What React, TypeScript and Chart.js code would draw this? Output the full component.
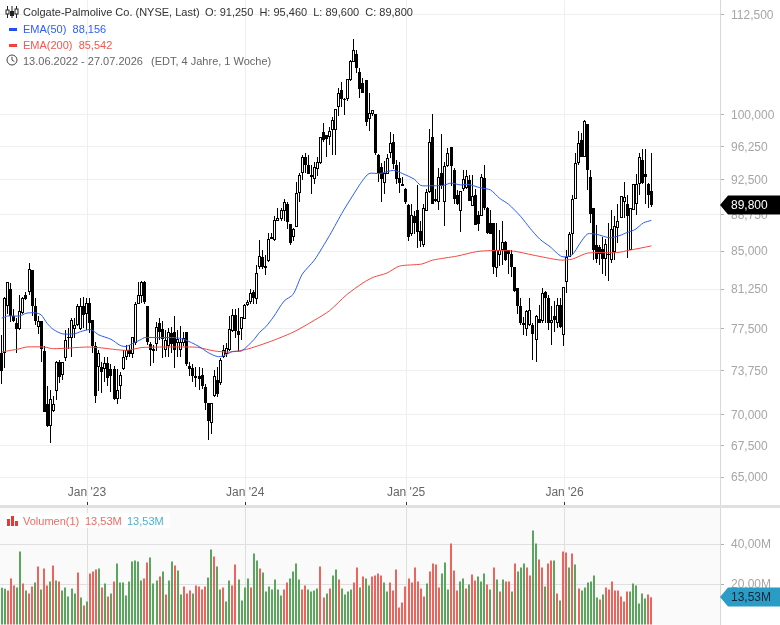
import React, { useEffect, useRef } from "react";
import { Chart, registerables } from "chart.js";

Chart.register(...registerables);

const FONT = "'Liberation Sans', Arial, sans-serif";

const opens = [
  75.3,75.3,79.6,81.3,78.7,78.0,77.45,79.0,80.7,81.0,83.1,79.65,77.7,78.2,
  75.5,70.85,69.1,70.3,72.0,74.5,73.4,74.9,76.65,76.7,77.45,77.9,77.45,79.6,78.9,79.95,78.3,75.9,74.1,74.1,73.9,74.4,73.9,73.9,71.3,72.4,73.9,75.0,75.6,75.2,76.2,79.8,80.6,81.9,79.6,76.1,75.5,76.15,78.0,77.5,75.6,75.9,77.1,77.2,76.25,75.6,76.2,77.2,74.2,74.0,73.1,73.3,73.4,72.3,71.0,69.3,71.55,72.9,72.7,75.0,75.2,75.6,77.3,
  78.75,77.3,77.45,78.4,79.75,80.05,80.95,80.3,83.4,84.45,83.5,84.0,86.4,86.1,88.1,88.3,89.15,89.9,87.8,86.4,87.45,91.1,93.25,95.0,94.1,93.0,92.55,93.65,94.4,97.9,97.55,97.3,98.1,98.1,100.85,102.9,101.7,101.8,104.15,106.4,107.45,105.2,103.8,104.2,99.4,100.05,100.05,95.3,93.95,92.15,93.1,95.55,96.75,94.1,92.7,92.0,91.5,89.8,86.7,88.6,89.3,87.1,85.65,89.15,91.15,97.3,90.45,90.15,93.25,90.1,94.0,96.15,93.6,90.8,
  89.1,91.45,91.65,92.5,89.7,90.8,88.75,88.65,92.7,89.5,87.9,87.85,83.3,84.6,85.1,85.95,85.1,84.75,83.4,81.35,79.6,78.05,77.45,77.9,77.9,76.45,78.4,78.2,80.95,80.4,78.05,78.7,78.05,79.7,76.9,81.9,84.45,86.7,90.45,94.35,96.95,95.05,98.85,92.8,89.45,85.6,85.45,85.25,84.25,84.75,84.1,84.95,87.35,88.4,90.15,89.85,85.1,89.3,89.85,92.0,94.7,93.15,92.05,91.25,
];
const highs = [
  76.9,80.5,81.95,81.85,79.4,78.5,80.7,80.5,81.0,83.8,83.1,80.4,78.7,78.2,
  75.95,72.4,72.1,71.6,74.6,74.7,74.5,77.4,77.6,78.5,78.5,79.85,80.4,80.5,80.4,80.4,78.3,76.3,75.6,74.5,75.0,75.0,74.3,74.2,73.9,73.6,75.6,76.0,76.0,76.8,80.0,81.9,82.0,82.0,79.6,76.3,76.0,78.1,78.5,78.2,77.4,77.6,77.7,78.7,77.4,77.8,77.2,77.2,74.5,74.3,74.1,74.1,74.0,72.6,71.0,71.0,73.8,74.1,74.9,76.0,76.2,78.7,79.35,
  79.4,79.45,78.6,79.85,80.2,81.25,81.2,83.65,86.1,85.1,84.6,86.85,86.85,88.65,89.5,89.5,90.4,90.05,87.8,87.4,92.3,93.3,95.25,95.5,95.25,94.1,94.5,95.05,97.3,99.0,97.55,98.5,99.65,100.6,103.2,103.9,101.9,104.25,106.65,109.3,107.9,105.7,104.4,104.2,102.6,100.5,100.05,95.4,94.4,94.6,95.4,97.9,97.7,94.7,94.5,92.85,91.6,89.9,89.9,89.15,91.95,88.1,89.9,91.5,98.3,100.0,91.5,93.8,97.7,94.5,96.1,96.15,93.8,91.4,
  91.3,93.6,93.55,93.05,93.05,91.5,89.1,93.2,94.2,89.6,89.2,87.9,87.9,87.2,88.05,86.05,85.1,85.1,83.45,81.35,80.35,78.6,79.3,80.35,78.05,78.8,79.75,81.35,81.05,80.7,79.6,80.1,80.35,80.35,81.45,85.1,86.95,90.85,95.5,98.05,97.85,99.3,98.85,93.55,89.45,87.7,85.6,86.45,86.25,87.9,89.3,88.65,89.85,90.75,92.25,90.8,89.45,92.05,93.2,95.5,96.0,95.9,92.2,95.46,
];
const lows = [
  72.6,74.0,78.9,78.1,78.1,75.3,77.4,78.9,80.2,80.7,78.7,77.9,77.0,74.5,
  70.2,69.0,67.7,70.2,71.2,72.7,72.9,74.6,75.7,75.0,76.7,77.8,77.4,77.6,77.4,77.1,75.3,71.0,72.0,71.8,72.8,72.4,71.9,71.2,70.9,71.3,73.8,74.7,75.0,74.9,76.0,79.8,79.9,79.8,76.0,74.2,74.4,75.5,76.5,74.9,75.0,75.0,75.3,74.0,75.0,75.0,75.9,74.2,73.3,72.8,72.3,72.1,72.2,70.4,67.9,68.4,71.5,71.5,72.5,74.9,75.0,75.5,77.2,
  76.7,75.5,76.5,78.4,79.6,79.8,79.8,79.8,83.2,83.2,82.6,83.95,86.2,86.0,88.1,88.05,88.1,87.25,85.65,86.05,87.45,90.1,92.5,93.25,93.2,90.95,92.0,92.9,94.3,96.75,95.05,96.4,95.3,95.3,99.75,100.85,99.9,101.6,104.05,106.4,105.0,102.0,102.6,98.6,98.0,99.8,95.3,92.3,90.1,90.95,93.1,94.9,93.75,92.1,91.1,91.8,89.9,86.05,86.55,86.7,85.35,85.45,85.4,89.1,91.1,89.85,90.1,89.25,91.5,87.6,93.95,91.8,89.9,89.75,
  86.95,91.3,91.45,90.25,89.7,87.7,87.05,88.65,89.3,86.7,86.7,82.75,82.4,83.5,83.65,84.05,82.75,82.4,81.0,78.85,77.9,76.9,76.85,77.75,74.65,74.55,78.05,78.05,78.05,77.4,76.05,77.2,77.6,77.6,75.95,80.9,84.45,84.6,90.45,94.2,95.05,95.05,91.4,87.9,84.1,83.85,83.6,82.75,82.5,82.0,83.85,84.1,85.85,88.4,88.4,84.35,85.1,89.3,88.75,90.9,92.0,89.9,89.45,89.6,
];
const closes = [
  73.7,80.4,81.9,78.7,78.2,77.45,79.2,80.4,80.3,83.2,79.65,78.2,78.2,75.7,
  70.2,69.1,71.3,70.9,74.5,73.2,74.5,76.5,76.8,78.3,77.85,79.6,79.6,78.8,79.95,78.0,75.9,71.6,75.3,73.6,74.4,73.1,73.3,71.3,72.1,73.4,75.0,75.6,75.2,76.8,79.8,80.7,81.9,80.0,76.3,75.6,75.7,77.7,77.2,76.6,76.5,77.2,76.1,75.6,76.6,76.3,76.7,74.35,73.9,73.3,73.25,73.0,72.4,71.0,69.45,71.0,73.25,71.7,74.7,75.6,75.75,77.45,78.8,
  77.3,76.9,78.6,79.75,80.0,80.9,80.4,82.85,84.55,83.4,83.3,86.25,86.25,88.2,88.45,89.3,90.05,87.95,85.85,87.3,91.1,93.0,95.05,94.1,93.2,92.85,93.95,94.5,97.3,96.95,97.05,98.0,99.3,100.6,102.6,101.8,101.85,104.25,106.5,107.9,105.65,103.0,102.6,99.05,100.1,100.5,95.55,93.25,92.55,93.25,94.9,96.65,94.25,92.55,92.15,91.8,90.15,86.4,88.7,87.85,86.95,86.0,89.5,91.15,96.7,89.85,90.25,92.85,91.8,94.0,95.45,94.0,90.45,89.9,
  91.3,92.55,92.95,90.25,90.7,87.7,87.8,92.8,89.5,86.85,86.7,83.45,85.1,85.1,85.9,84.1,84.75,83.45,81.1,79.6,78.0,77.9,79.15,79.3,77.0,78.7,78.05,80.85,80.4,78.05,78.35,78.3,79.75,77.7,81.45,84.45,86.7,90.45,94.35,96.65,95.05,99.2,93.55,88.85,85.1,84.25,84.75,84.25,85.75,84.7,87.25,87.55,88.05,90.75,90.65,88.6,89.45,92.05,92.05,95.1,92.2,92.85,90.8,89.8,
];

const ema50Weeks = [0,2,6,8,11,13,15,17,20,24,26,29,30,32,36,39,41,43,46,47,52,57,60,65,68,71,73,76,79,83,85,87,89.5,93,96,99,103,108,112.5,117,118.6,121,124.6,129,132,136,138,141,145.5,148,151,153.7,157.5,161,164,167,171,174,177.3,180.6,184.5,187.8,190.5,193,196,200.4,203.7,206,208.6,211.4,214];
const ema50 = [78.5,78.7,78.7,78.95,79.0,78.8,78.0,77.45,77.05,77.05,77.25,77.45,77.35,76.95,76.55,76.0,75.9,76.15,76.55,76.7,76.7,76.7,76.55,75.9,75.35,75.0,75.05,75.45,75.5,76.5,77.2,77.7,78.6,80.1,80.75,82.7,84.1,86.6,89.15,91.5,92.3,93.2,93.2,93.55,93.2,92.55,91.9,91.85,91.9,92.15,91.95,92.0,91.65,91.4,90.5,89.85,88.55,87.35,86.2,85.45,84.45,84.6,85.8,86.75,86.7,86.35,86.6,86.9,87.2,87.9,88.156];

const ema200Weeks = [0,3,6,8,14,17,28,32,41,46,52,63,65,70,75,80.7,88,96,103,108,113.6,119,122.4,126.8,131,138.3,142,150,156.5,161,168.5,175,184,188,193,202.6,207,213.6,214];
const ema200 = [75.4,75.55,75.7,75.85,75.85,75.7,75.85,75.8,75.55,75.8,75.85,75.85,75.8,75.5,75.4,75.65,76.3,77.2,78.3,79.2,80.7,81.85,82.4,82.8,83.5,83.7,84.1,84.5,84.95,85.05,85.0,84.6,84.1,84.2,84.8,84.85,85.1,85.5,85.542];

const volumes = [
  18.3,17.8,17,23,19.5,18.5,36.5,20.5,17,15.5,19,21,29,17.5,28,19.5,21.5,29.5,22,21.5,17,18.5,14,18,15.5,26,13.5,9.5,11.5,25.5,26.5,27.5,28,18.5,20.5,14,15.5,21.5,30.5,21,21,14.5,21.5,31.5,32,31.5,22,23,31,33.5,20.5,22,24,26.5,15,22,31.5,29.5,27,15,19,15.5,17,15.5,19.5,19,17.5,19,23.5,37.5,34,29,17.5,18.5,11.5,22,19.5,30,22.5,12,18.5,23,18.5,35.5,32,28,
  26,16.5,19,17.5,22.5,17.5,14.5,17.5,21,23,26.5,30.5,22.5,17.5,19.5,17.5,16.5,17,18,29,13.5,15.5,18,24.5,27.5,22.5,18,15,16.5,17.5,21,28.5,18.5,24,23,19.5,24,24.5,25.5,24.5,21,16.5,21,17,27.5,8.5,11,19,23,21,28.5,21.5,18,14,20.5,26.5,30.5,30,18.5,25.5,31,17.5,40.5,27,17,21.5,23,18,20,25,22,24,21.5,25.5,20,17.5,28.5,22.5,16.5,22.5,21.5,21.5,16.5,30.5,26.5,
  28.5,30.5,28.5,24.5,47,40.5,32.5,28.5,19,30.5,32,32,15.5,12,36.5,36,28.5,35.5,30,18,17,18.5,21,21.5,24.5,13.5,12.5,15,18.5,17.5,21.5,17,17,14,11.5,16.5,16.5,20.5,19.5,10.5,15.5,13,15,13.53,
];
const volumeDirections = (
  "GG RRR GG R G RR G R G RR G R G R GGGGG R G R G RRR G R G R G R GGGGGGGGG RR GGG R G R GG R GG RRR G RRRR GG R GG R GG RR GGGG R GG R " +
  "GGGGGGG RR GGGG RR GGGG RR G R GG R GGGG RR G R GG R RR R G G RRR RRRR RRR R R G R RRR GGG RRR GG R G RR GGG R G R G R G RR G R GGG RR GG " +
  "RR G R R G R G R R G R G R GGGGGG R G RRRRRRRR GGGGGG RR GGGG RRRR"
).replace(/\s/g, "");

const priceTicks = [112.5, 100, 96.25, 92.5, 88.75, 85, 81.25, 77.5, 73.75, 70, 67.5, 65];
const volumeTicks = [40, 20];
const timeTickWeeks = [28.1, 80.2, 133.2, 185.4];
const timeTickLabels = ["Jan '23", "Jan '24", "Jan '25", "Jan '26"];

const lastPrice = 89.8;
const lastVolume = 13.53;

const weeks = opens.map((_, i) => i);
const X_MIN = -0.56;
const X_MAX = 236.6;

const snapBars = (chart: any, half: boolean) => {
  chart.data.datasets.forEach((ds: any, i: number) => {
    if (ds.type === "line") return;
    const meta = chart.getDatasetMeta(i);
    meta.data.forEach((el: any) => {
      el.x = half ? Math.round(el.x - 0.5) + 0.5 : Math.round(el.x);
      const t = Math.round(el.y);
      let b = Math.round(el.base);
      if (b - t < 1) b = t + 1;
      el.y = t;
      el.base = b;
    });
  });
};

const badge = (chart: any, scaleId: string, value: number, text: string, fill: string, ink: string) => {
  const { ctx } = chart;
  const cy = Math.round(chart.scales[scaleId].getPixelForValue(value));
  ctx.save();
  ctx.fillStyle = fill;
  ctx.beginPath();
  ctx.moveTo(720, cy);
  ctx.lineTo(728, cy - 9.5);
  ctx.lineTo(780, cy - 9.5);
  ctx.lineTo(780, cy + 9.5);
  ctx.lineTo(728, cy + 9.5);
  ctx.closePath();
  ctx.fill();
  ctx.fillStyle = ink;
  ctx.font = `12px ${FONT}`;
  ctx.textBaseline = "middle";
  ctx.textAlign = "left";
  ctx.fillText(text, 731, cy + 0.5);
  ctx.restore();
};

const timeAxis = (gridColor: string, showLabels: boolean) => ({
  type: "linear" as const,
  min: X_MIN,
  max: X_MAX,
  offset: false,
  afterFit: (s: any) => {
    s.height = 0;
    s.paddingLeft = 0;
    s.paddingRight = 0;
    s.paddingTop = 0;
    s.paddingBottom = 0;
  },
  afterBuildTicks: (s: any) => { s.ticks = timeTickWeeks.map((value) => ({ value })); },
  border: { display: false },
  grid: { offset: false, color: gridColor, lineWidth: 1, drawTicks: false, tickLength: 0 },
  ticks: {
    display: showLabels,
    mirror: true,
    autoSkip: false,
    maxRotation: 0,
    padding: 5,
    color: "#666666",
    font: { size: 12, family: FONT },
    callback: (v: any) => {
      const i = timeTickWeeks.indexOf(v);
      return i >= 0 ? timeTickLabels[i] : "";
    },
  },
});

const sideAxisFit = (s: any) => {
  s.width = 60;
  s.paddingTop = 0;
  s.paddingBottom = 0;
  s.paddingLeft = 0;
  s.paddingRight = 0;
};

export default function App() {
  const priceRef = useRef<HTMLCanvasElement>(null);
  const volumeRef = useRef<HTMLCanvasElement>(null);

  useEffect(() => {
    const priceChart = new Chart(priceRef.current!, {
      type: "bar",
      data: {
        datasets: [
          {
            type: "line",
            data: ema50Weeks.map((x, i) => ({ x, y: ema50[i] })),
            borderColor: "#2b5cf6",
            borderWidth: 1,
            pointRadius: 0,
            tension: 0.25,
            order: 0,
          },
          {
            type: "line",
            data: ema200Weeks.map((x, i) => ({ x, y: ema200[i] })),
            borderColor: "#f4473f",
            borderWidth: 1,
            pointRadius: 0,
            tension: 0.25,
            order: 0,
          },
          {
            type: "bar",
            data: weeks.map((x) => ({ x, y: [Math.min(opens[x], closes[x]), Math.max(opens[x], closes[x])] })),
            barThickness: 3,
            grouped: false,
            borderSkipped: false,
            inflateAmount: 0,
            borderWidth: 1,
            borderColor: "#000000",
            backgroundColor: weeks.map((x) => (closes[x] >= opens[x] ? "#ffffff" : "#000000")),
            order: 1,
          },
          {
            type: "bar",
            data: weeks.map((x) => ({ x, y: [lows[x], highs[x]] })),
            barThickness: 1,
            grouped: false,
            borderSkipped: false,
            inflateAmount: 0,
            borderWidth: 0,
            backgroundColor: "#000000",
            order: 2,
          },
        ],
      } as any,
      options: {
        responsive: false,
        animation: false,
        layout: { padding: 0 },
        plugins: { legend: { display: false }, tooltip: { enabled: false } },
        scales: {
          x: timeAxis("#efefef", true),
          y: {
            type: "logarithmic",
            position: "right",
            min: 62.88,
            max: 114.52,
            afterFit: sideAxisFit,
            afterBuildTicks: (s: any) => { s.ticks = priceTicks.map((value) => ({ value })); },
            border: { display: true, color: "#d8d8d8" },
            grid: { color: "#efefef", lineWidth: 1, tickLength: 4, tickColor: "#b0b0b0" },
            ticks: {
              autoSkip: false,
              padding: 7,
              labelOffset: 1,
              color: "#a6a6a6",
              font: { size: 12, family: FONT },
              callback: (v: any) => Number(v).toFixed(3).replace(".", ","),
            },
          },
        },
      } as any,
      plugins: [
        {
          id: "priceMarks",
          beforeDatasetsDraw: (chart: any) => snapBars(chart, true),
          afterDraw: (chart: any) => {
            const { ctx, scales } = chart;
            ctx.save();
            ctx.fillStyle = "#333333";
            timeTickWeeks.forEach((w) => {
              ctx.fillRect(Math.round(scales.x.getPixelForValue(w) - 0.5), 502, 1, 3);
            });
            ctx.restore();
            badge(chart, "y", lastPrice, lastPrice.toFixed(3).replace(".", ","), "#000000", "#ffffff");
          },
        },
      ],
    });

    const volumeChart = new Chart(volumeRef.current!, {
      type: "bar",
      data: {
        datasets: [
          {
            data: weeks.map((x) => ({ x, y: volumes[x] })),
            barThickness: 2,
            inflateAmount: 0,
            borderWidth: 0,
            backgroundColor: weeks.map((x) => (volumeDirections[x] === "R" ? "#ec645e" : "#5ba55f")),
          },
        ],
      } as any,
      options: {
        responsive: false,
        animation: false,
        layout: { padding: 0 },
        plugins: { legend: { display: false }, tooltip: { enabled: false } },
        scales: {
          x: timeAxis("#dedede", false),
          y: {
            type: "linear",
            position: "right",
            min: -0.3,
            max: 58.2,
            afterFit: sideAxisFit,
            afterBuildTicks: (s: any) => { s.ticks = volumeTicks.map((value) => ({ value })); },
            border: { display: true, color: "#d8d8d8" },
            grid: { color: "#e0e0e0", lineWidth: 1, tickLength: 4, tickColor: "#b0b0b0" },
            ticks: {
              autoSkip: false,
              padding: 7,
              color: "#a6a6a6",
              font: { size: 12, family: FONT },
              callback: (v: any) => Number(v).toFixed(2).replace(".", ",") + "M",
            },
          },
        },
      } as any,
      plugins: [
        {
          id: "volumeMarks",
          beforeDatasetsDraw: (chart: any) => {
            chart.data.datasets.forEach((_: any, i: number) => {
              chart.getDatasetMeta(i).data.forEach((el: any) => {
                el.x = Math.round(el.x);
              });
            });
          },
          afterDraw: (chart: any) => {
            badge(chart, "y", lastVolume, lastVolume.toFixed(2).replace(".", ",") + "M", "#2a9cc5", "#10283a");
          },
        },
      ],
    });

    return () => {
      priceChart.destroy();
      volumeChart.destroy();
    };
  }, []);

  const row = (top: number): React.CSSProperties => ({
    position: "absolute",
    left: 23,
    top,
    height: 16,
    lineHeight: "16px",
    whiteSpace: "pre",
    fontSize: 11,
  });

  return (
    <div style={{ position: "absolute", left: 0, top: 0, width: 780, height: 625, overflow: "hidden", background: "#fff", fontFamily: FONT }}>
      <canvas ref={priceRef} width={780} height={505} style={{ position: "absolute", left: 0, top: 0, display: "block" }} />
      <div style={{ position: "absolute", left: 0, top: 505, width: 780, height: 3, background: "#e0e0e0" }} />
      <div style={{ position: "absolute", left: 0, top: 508, width: 720, height: 117, background: "#fafafa" }} />
      <canvas ref={volumeRef} width={780} height={117} style={{ position: "absolute", left: 0, top: 508, display: "block" }} />

      <svg width={14} height={14} style={{ position: "absolute", left: 5, top: 5 }}>
        <g stroke="#222" fill="none" strokeWidth={1}>
          <path d="M2.5 1V13M7 1V13M11.5 1V13" />
          <rect x={1} y={5} width={3} height={4} fill="#fff" />
          <rect x={5.5} y={6.5} width={3} height={4} fill="#222" />
          <rect x={10} y={4} width={3} height={5} fill="#fff" />
        </g>
      </svg>
      <div style={{ ...row(4), color: "#333" }}>{"Colgate-Palmolive Co. (NYSE, Last)"}</div>
      <div style={{ ...row(4), left: 205, color: "#333" }}>{"O: 91,250  H: 95,460  L: 89,600  C: 89,800"}</div>

      <div style={{ position: "absolute", left: 9, top: 28, width: 8, height: 3, background: "#1f4ff5" }} />
      <div style={{ ...row(21), color: "#2f5df5" }}>{"EMA(50)  88,156"}</div>

      <div style={{ position: "absolute", left: 9, top: 44, width: 8, height: 3, background: "#f4433c" }} />
      <div style={{ ...row(37), color: "#f4574f" }}>{"EMA(200)  85,542"}</div>

      <svg width={14} height={14} style={{ position: "absolute", left: 5, top: 53 }}>
        <circle cx={7} cy={7} r={5} fill="none" stroke="#444" strokeWidth={1} />
        <path d="M7 3.8V7L9.4 8.6" fill="none" stroke="#444" strokeWidth={1} />
      </svg>
      <div style={{ ...row(53), color: "#666" }}>{"13.06.2022 - 27.07.2026"}</div>
      <div style={{ ...row(53), left: 151, color: "#666" }}>{"(EDT, 4 Jahre, 1 Woche)"}</div>

      <div style={{ position: "absolute", left: 5, top: 513, width: 165, height: 15, background: "#ffffff" }} />
      <svg width={12} height={10} style={{ position: "absolute", left: 7, top: 516 }}>
        <rect x={0} y={3} width={3} height={7} fill="#e53935" />
        <rect x={4} y={0} width={3} height={10} fill="#e53935" />
        <rect x={8} y={5} width={3} height={5} fill="#e53935" />
      </svg>
      <div style={{ ...row(513), left: 23, color: "#ef6a64" }}>{"Volumen(1)"}</div>
      <div style={{ ...row(513), left: 85, color: "#ef6a64" }}>{"13,53M"}</div>
      <div style={{ ...row(513), left: 127, color: "#4ab0d4" }}>{"13,53M"}</div>
    </div>
  );
}
